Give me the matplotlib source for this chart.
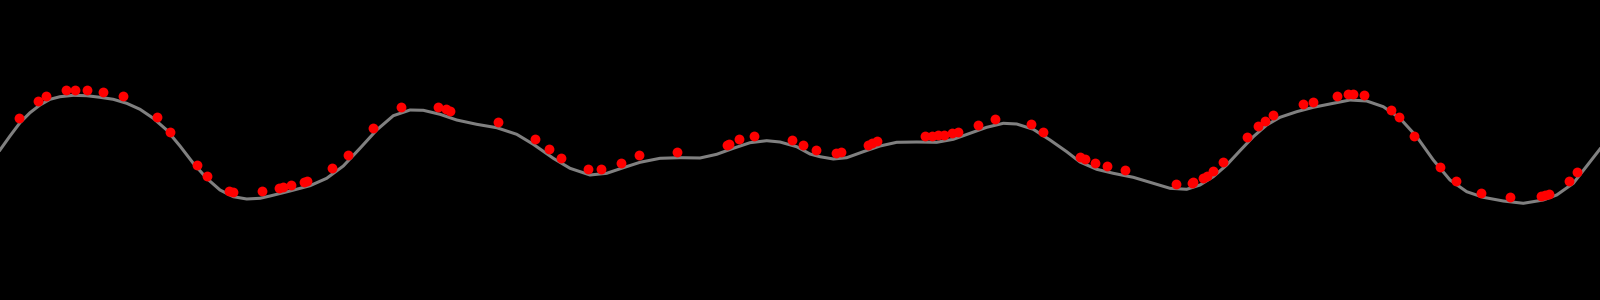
import numpy as np
import matplotlib
matplotlib.use("Agg")
from matplotlib import pyplot as plt

obs_x = [19.3, 38.3, 45.7, 65.7, 75, 86.7, 103.3, 123.3, 157.3, 170, 196.7, 206.7, 229.3, 233.3, 262.3,
         279, 283.3, 290.7, 304.3, 307.3, 332.3, 348.3, 373.3, 401, 438.3, 446, 450, 498.3, 535,
         549, 560.7, 587.7, 601, 620.7, 639, 676.7, 726.7, 729.3, 739, 753.7, 791.7,
         803.3, 815.7, 835.7, 840.7, 867.7, 871.7, 876.7, 925, 931.7, 938.3, 944.3, 951.7, 958.3,
         978.3, 995, 1031, 1043.3,
         1080, 1085, 1095, 1107.3, 1125, 1176.3, 1191.7, 1193.3, 1203.3, 1206.7, 1213.3, 1223.3,
         1246.7, 1258.3, 1265, 1273.3, 1302.7, 1312.7,
         1337.3, 1348.3, 1352.7, 1364.3, 1391.3, 1399, 1414.3, 1440, 1456, 1481, 1510.3,
         1540.7, 1545, 1549, 1568.7, 1577]
obs_y = [118.3, 100.7, 96, 90.3, 90, 90.3, 92, 96, 117.3, 132, 165.3, 176, 191, 192, 191,
         187.7, 186.7, 185, 181.7, 181, 168.3, 154.7, 128.3, 107, 107, 109.3, 111, 122.3, 139.3,
         149.3, 158, 169.3, 168.7, 162.7, 155.3, 151.7, 145, 143.7, 139.3, 135.7, 140,
         145, 150, 153, 152.3, 145, 142.7, 140.7, 135.7, 135.7, 135.3, 134.7, 133.3, 132,
         125, 119, 124, 132,
         157.3, 159.3, 163, 166.3, 169.7, 183.7, 182.7, 182, 177.7, 176, 170.7, 161.7,
         137.3, 126.3, 120.7, 115, 103.7, 101.7,
         96, 94, 94, 95, 109.7, 116.7, 135.7, 167, 181.3, 192.7, 196.7,
         196, 194.7, 193.7, 180.7, 172.3]

# underlying smooth curve
curve_x = [0, 10, 20, 30, 40, 50, 60, 73.3, 86.7, 100, 113.3, 126.7, 140, 153.3, 166.7, 180, 193.3, 206.7,
           220, 233.3, 246.7, 260, 270, 290, 310, 326.7, 343.3, 360, 376.7, 393.3, 410, 423.3, 440,
           456.7, 476.7, 496.7, 516.7, 533.3, 553.3, 570, 590, 606.7, 623.3, 640, 660, 680, 700,
           716.7, 733.3, 750, 766.7, 780, 796.7, 810, 820, 833.3, 846.7, 863.3, 880, 896.7, 916.7,
           936.7, 953.3, 970, 986.7, 1003.3, 1016.7, 1033.3, 1050, 1066.7, 1080, 1096.7, 1113.3,
           1133.3, 1153.3, 1170, 1186.7, 1200, 1213.3, 1226.7, 1240, 1253.3, 1266.7, 1280, 1296.7,
           1313.3, 1333.3, 1350, 1366.7, 1383.3, 1400, 1416.7, 1433.3, 1450, 1466.7, 1483.3, 1503.3,
           1523.3, 1543.3, 1556.7, 1573.3, 1600]
curve_y = [150, 136, 122.7, 112.7, 105, 99.3, 96.7, 95.3, 95.7, 97.3, 99.3, 103.3, 109.3, 118.3, 130, 146, 163.3, 178.3,
           190, 196.7, 199, 198.3, 196, 191, 185.7, 178.3, 166, 148.3, 130, 115.7, 110, 110.3, 114.3,
           120, 124.3, 127.7, 134.3, 144.3, 158.3, 168.3, 175, 173.3, 167.7, 162.3, 158.3, 157.7, 158,
           154.3, 148.3, 142.7, 140.7, 142, 146.7, 154, 156.7, 159, 157.7, 151.7, 146, 142.3, 142,
           142.3, 139.3, 133.3, 127.3, 123.3, 124, 129.3, 140, 151.7, 162, 169.3, 173.3,
           177.3, 183.3, 188.3, 189.3, 185, 176.7, 165, 150.7, 136.7, 125, 117.3, 111.7,
           107.3, 103.3, 100, 101, 106.7, 118.3, 136.7, 160, 180, 191.7, 197.3, 201,
           203.3, 200, 195, 183.3, 149]

fig = plt.figure(figsize=(16, 3), dpi=100, facecolor="black")
ax = fig.add_axes([0, 0, 1, 1])
ax.set_facecolor("black")

ax.plot(curve_x, curve_y, color="#808080", lw=2.2, zorder=1, solid_joinstyle="round")
ax.scatter(obs_x, obs_y, s=50, color="red", zorder=2, linewidths=0)

ax.set_xlim(0, 1600)
ax.set_ylim(300, 0)
ax.axis("off")

plt.savefig("out.png", dpi=100, facecolor="black")
plt.close()
